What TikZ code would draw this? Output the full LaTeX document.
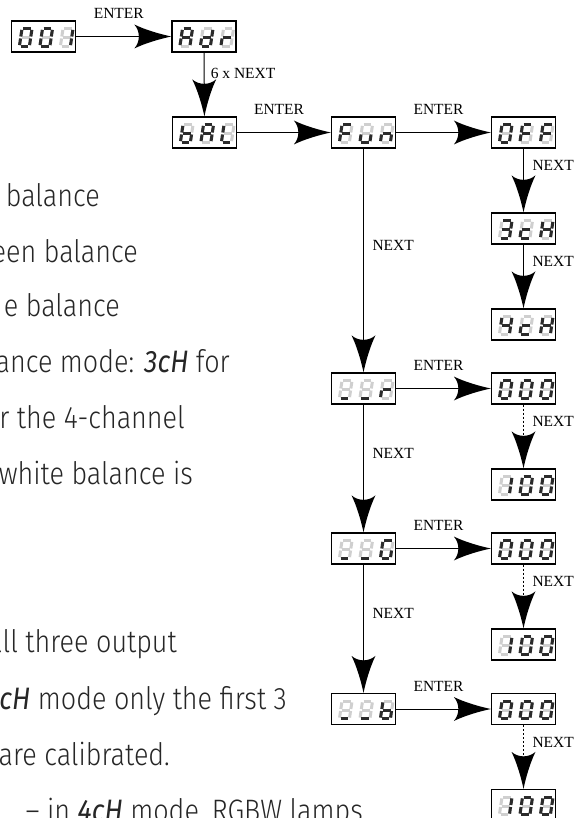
\documentclass[tikz,border=0pt]{standalone}
\usepackage{fontspec}
\setmainfont{Liberation Serif}
\newfontfamily\bodyfont{Fira Sans Light}[FakeStretch=0.87,ItalicFont={Fira Sans Italic}]

\newlength{\du}
\setlength{\du}{1pt}

\definecolor{segoncolor}{rgb}{0.170000, 0.170000, 0.170000}
\definecolor{segoffcolor}{rgb}{0.810000, 0.810000, 0.810000}

% dart shaped arrow head with a hollow back
\pgfdeclarearrow{
  name = Dart,
  setup code = {
    \pgfarrowssettipend{0pt}
    \pgfarrowssetlineend{-28pt}
    \pgfarrowssetbackend{-37pt}
    \pgfarrowshullpoint{0pt}{0pt}
    \pgfarrowshullpoint{-37pt}{12pt}
    \pgfarrowshullpoint{-37pt}{-12pt}
  },
  drawing code = {
    \pgfpathmoveto{\pgfpointorigin}
    \pgfpathcurveto{\pgfpoint{-12pt}{2.5pt}}{\pgfpoint{-27pt}{7pt}}{\pgfpoint{-37pt}{12pt}}
    \pgfpathcurveto{\pgfpoint{-31pt}{5pt}}{\pgfpoint{-31pt}{-5pt}}{\pgfpoint{-37pt}{-12pt}}
    \pgfpathcurveto{\pgfpoint{-27pt}{-7pt}}{\pgfpoint{-12pt}{-2.5pt}}{\pgfpointorigin}
    \pgfpathclose
    \pgfusepathqfill
  }
}

\tikzset{
  dispbox/.style={draw, line width=1.3\du, fill=white, minimum width=64\du, minimum height=31\du, inner sep=0},
  flow/.style={line width=1\du, -Dart},
  flowdash/.style={flow, dash pattern=on 2\du off 2\du},
  keylabel/.style={font=\fontsize{15.5}{15.5}\selectfont, inner sep=0},
  enterlabel/.style={keylabel, midway, anchor=base, xshift=-5\du, yshift=18\du},
  nextlabel/.style={keylabel, midway, anchor=west, xshift=8.5\du, yshift=15\du},
  bodytext/.style={font=\bodyfont\fontsize{31}{31}\selectfont, text=black!85, inner sep=0},
  segon/.style={draw=segoncolor, line width=3\du},
  segoff/.style={draw=segoffcolor, line width=3\du},
  seg a/.style={insert path={(2.3,-18.6)--(10.1,-18.6)}},
  seg b/.style={insert path={(11.2,-17.6)--(11.2,-11)}},
  seg c/.style={insert path={(11.2,-9)--(11.2,-2.4)}},
  seg d/.style={insert path={(2.3,-1.4)--(10.1,-1.4)}},
  seg e/.style={insert path={(1.2,-9)--(1.2,-2.4)}},
  seg f/.style={insert path={(1.2,-17.6)--(1.2,-11)}},
  seg g/.style={insert path={(2.3,-10)--(10.1,-10)}}
}

% one display digit, bottom left corner at (#1,#2)
\newcommand{\segdigit}[3]{%
  \begin{scope}[shift={(#1,#2)}, xslant=0.15]
    \foreach \s in {a,...,g} \path[segoff, seg \s];
    \foreach \s in {#3} \path[segon, seg \s];
  \end{scope}}

% display of three digits: name, centre x, centre y, digits
\newcommand{\segbox}[6]{%
  \node[dispbox] (#1) at (#2,#3) {};
  \segdigit{#2-25.5}{#3+11}{#4}
  \segdigit{#2-5}{#3+11}{#5}
  \segdigit{#2+15.5}{#3+11}{#6}}

\begin{document}
\begin{tikzpicture}[x=\du, y=-\du]
\useasboundingbox (0,0) rectangle (579,818);
\clip (0,0) rectangle (579,818);

% text of the page beside the menu
\foreach \ty/\tx/\txt [count=\i] in {
  207/100/{balance},
  262/138/{een balance},
  316/120/{e balance},
  372/230/{ance mode: \textit{3cH} for},
  428/185/{r the 4-channel},
  484/193/{white balance is},
  652/177/{all three output},
  709/287/{\textit{cH} mode only the first 3},
  765/170/{are calibrated.},
  821/363/{– in \textit{4cH} mode, RGBW lamps}}
  \node[bodytext, anchor=base east] (text\i) at (\tx,\ty) {\txt};

% displays
\segbox{dAddr}{43.5}{36.5}{a,b,c,d,e,f}{a,b,c,d,e,f}{b,c}
\segbox{dAdr}{204}{36.5}{a,b,c,e,f,g}{b,c,d,e,g}{e,g}
\segbox{dBal}{204.5}{132.5}{c,d,e,f,g}{a,b,c,e,f,g}{d,e,f}
\segbox{dFun}{363.5}{132.5}{a,e,f,g}{c,d,e}{c,e,g}
\segbox{dOff}{523.5}{132.5}{a,b,c,d,e,f}{a,e,f,g}{a,e,f,g}
\segbox{dThree}{523.5}{228.5}{a,b,c,d,g}{d,e,g}{b,c,e,f,g}
\segbox{dFour}{523.5}{324.5}{b,c,f,g}{d,e,g}{b,c,e,f,g}
\segbox{dRed}{363.5}{388.5}{d}{d}{e,g}
\segbox{dRedLo}{523.5}{388.5}{a,b,c,d,e,f}{a,b,c,d,e,f}{a,b,c,d,e,f}
\segbox{dRedHi}{523.5}{484.5}{b,c}{a,b,c,d,e,f}{a,b,c,d,e,f}
\segbox{dGrn}{363.5}{548.5}{d}{d}{a,c,d,e,f}
\segbox{dGrnLo}{523.5}{548.5}{a,b,c,d,e,f}{a,b,c,d,e,f}{a,b,c,d,e,f}
\segbox{dGrnHi}{523.5}{644.5}{b,c}{a,b,c,d,e,f}{a,b,c,d,e,f}
\segbox{dBlu}{363.5}{709}{d}{d}{c,d,e,f,g}
\segbox{dBluLo}{523.5}{709}{a,b,c,d,e,f}{a,b,c,d,e,f}{a,b,c,d,e,f}
\segbox{dBluHi}{523.5}{805}{b,c}{a,b,c,d,e,f}{a,b,c,d,e,f}

% connectors
\draw[flow] (dAddr) -- node[enterlabel] (lEnterA) {ENTER} (dAdr);
\draw[flow] (dAdr) -- node[keylabel, midway, anchor=west, xshift=6\du, yshift=11\du] (lSixNext) {6 x NEXT} (dBal);
\draw[flow] (dBal) -- node[enterlabel] (lEnterB) {ENTER} (dFun);
\draw[flow] (dFun) -- node[enterlabel] (lEnterC) {ENTER} (dOff);
\draw[flow] (dOff) -- node[nextlabel] (lNextA) {NEXT} (dThree);
\draw[flow] (dThree) -- node[nextlabel] (lNextB) {NEXT} (dFour);
\draw[flow] (dFun) -- node[nextlabel] (lNextC) {NEXT} (dRed);
\draw[flow] (dRed) -- node[enterlabel] (lEnterD) {ENTER} (dRedLo);
\draw[flowdash] (dRedLo) -- node[nextlabel] (lNextD) {NEXT} (dRedHi);
\draw[flow] (dRed) -- node[nextlabel] (lNextE) {NEXT} (dGrn);
\draw[flow] (dGrn) -- node[enterlabel] (lEnterE) {ENTER} (dGrnLo);
\draw[flowdash] (dGrnLo) -- node[nextlabel] (lNextF) {NEXT} (dGrnHi);
\draw[flow] (dGrn) -- node[nextlabel] (lNextG) {NEXT} (dBlu);
\draw[flow] (dBlu) -- node[enterlabel] (lEnterF) {ENTER} (dBluLo);
\draw[flowdash] (dBluLo) -- node[nextlabel] (lNextH) {NEXT} (dBluHi);
\end{tikzpicture}
\end{document}
